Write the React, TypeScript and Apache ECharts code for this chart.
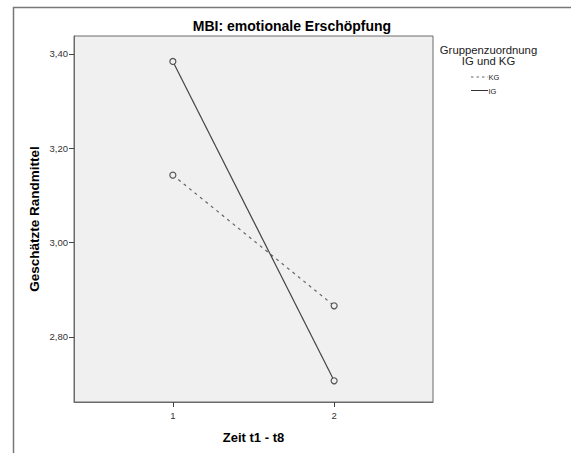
import React, { useEffect, useRef } from "react";
import * as echarts from "echarts";

const timePoints = [1, 2];
const kgValues = [3.143, 2.866];
const igValues = [3.384, 2.707];
const yTicks = [2.8, 3.0, 3.2, 3.4];
const xTicks = [1, 2];
const groupNames = ["KG", "IG"];

const FONT = "'Liberation Sans', Arial, Helvetica, sans-serif";

export default function App() {
  const ref = useRef<HTMLDivElement>(null);

  useEffect(() => {
    document.body.style.margin = "0";
    const chart = echarts.init(ref.current as HTMLDivElement, null, { renderer: "svg" });

    const kgData = timePoints.map((t, i) => [t, kgValues[i]]);
    const igData = timePoints.map((t, i) => [t, igValues[i]]);

    chart.setOption({
      animation: false,
      backgroundColor: "#ffffff",
      title: {
        text: "MBI: emotionale Erschöpfung",
        left: 292,
        top: 19,
        textAlign: "center",
        padding: 0,
        textStyle: { fontFamily: FONT, fontSize: 14, fontWeight: "bold", color: "#000" },
      },
      grid: {
        left: 74,
        right: 138,
        top: 36,
        bottom: 51,
        show: true,
        backgroundColor: "#F0F0F0",
        borderColor: "#6a6a6a",
        borderWidth: 1,
      },
      xAxis: {
        type: "value",
        min: 0.387,
        max: 2.613,
        name: "Zeit t1 - t8",
        nameLocation: "middle",
        nameGap: 29,
        nameTextStyle: { fontFamily: FONT, fontSize: 13, fontWeight: "bold", color: "#000" },
        axisLine: { show: true, lineStyle: { color: "#6a6a6a", width: 1 } },
        splitLine: { show: false },
        axisTick: { show: true, length: 5, customValues: xTicks, lineStyle: { color: "#444", width: 1 } },
        axisLabel: {
          customValues: xTicks,
          margin: 8,
          fontFamily: FONT,
          fontSize: 9.5,
          color: "#333",
          formatter: (v: number) => String(v),
        },
      },
      yAxis: {
        type: "value",
        min: 2.662,
        max: 3.438,
        name: "Geschätzte Randmittel",
        nameLocation: "middle",
        nameGap: 32.5,
        nameMoveOverlap: false,
        nameTextStyle: { fontFamily: FONT, fontSize: 13.5, fontWeight: "bold", color: "#000" },
        axisLine: { show: true, lineStyle: { color: "#6a6a6a", width: 1 } },
        splitLine: { show: false },
        axisTick: { show: true, length: 5, customValues: yTicks, lineStyle: { color: "#444", width: 1 } },
        axisLabel: {
          customValues: yTicks,
          margin: 6,
          fontFamily: FONT,
          fontSize: 9.5,
          color: "#333",
          formatter: (v: number) => v.toFixed(2).replace(".", ","),
        },
      },
      series: [
        {
          name: groupNames[0],
          type: "line",
          data: kgData,
          symbol: "circle",
          symbolSize: 6,
          lineStyle: { color: "#666", width: 1.2, type: [3, 4] },
          itemStyle: { color: "#F0F0F0", borderColor: "#555", borderWidth: 1.2 },
          z: 2,
        },
        {
          name: groupNames[1],
          type: "line",
          data: igData,
          symbol: "circle",
          symbolSize: 6,
          lineStyle: { color: "#444", width: 1.2, type: "solid" },
          itemStyle: { color: "#F0F0F0", borderColor: "#555", borderWidth: 1.2 },
          z: 3,
        },
      ],
      graphic: [
        {
          type: "polyline",
          shape: { points: [[13.5, 453], [13.5, 7.5], [571, 7.5]] },
          style: { stroke: "#777", lineWidth: 1.5, fill: "none" },
          silent: true,
        },
        {
          type: "text",
          x: 488.5,
          y: 50,
          style: {
            text: "Gruppenzuordnung",
            fontFamily: FONT,
            fontSize: 11.3,
            fill: "#222",
            align: "center",
            verticalAlign: "middle",
          },
        },
        {
          type: "text",
          x: 488.5,
          y: 61,
          style: {
            text: "IG und KG",
            fontFamily: FONT,
            fontSize: 11.3,
            fill: "#222",
            align: "center",
            verticalAlign: "middle",
          },
        },
        {
          type: "line",
          shape: { x1: 471, y1: 77, x2: 488, y2: 77 },
          style: { stroke: "#666", lineWidth: 1, lineDash: [2.5, 3] },
        },
        {
          type: "text",
          x: 488.5,
          y: 77.5,
          style: {
            text: groupNames[0],
            fontFamily: FONT,
            fontSize: 7.5,
            fill: "#222",
            align: "left",
            verticalAlign: "middle",
          },
        },
        {
          type: "line",
          shape: { x1: 471, y1: 90.5, x2: 488, y2: 90.5 },
          style: { stroke: "#333", lineWidth: 1 },
        },
        {
          type: "text",
          x: 488.5,
          y: 91,
          style: {
            text: groupNames[1],
            fontFamily: FONT,
            fontSize: 7.5,
            fill: "#222",
            align: "left",
            verticalAlign: "middle",
          },
        },
      ],
    });

    return () => {
      chart.dispose();
    };
  }, []);

  return (
    <div
      ref={ref}
      style={{ position: "absolute", left: 0, top: 0, width: 571, height: 453 }}
    />
  );
}
